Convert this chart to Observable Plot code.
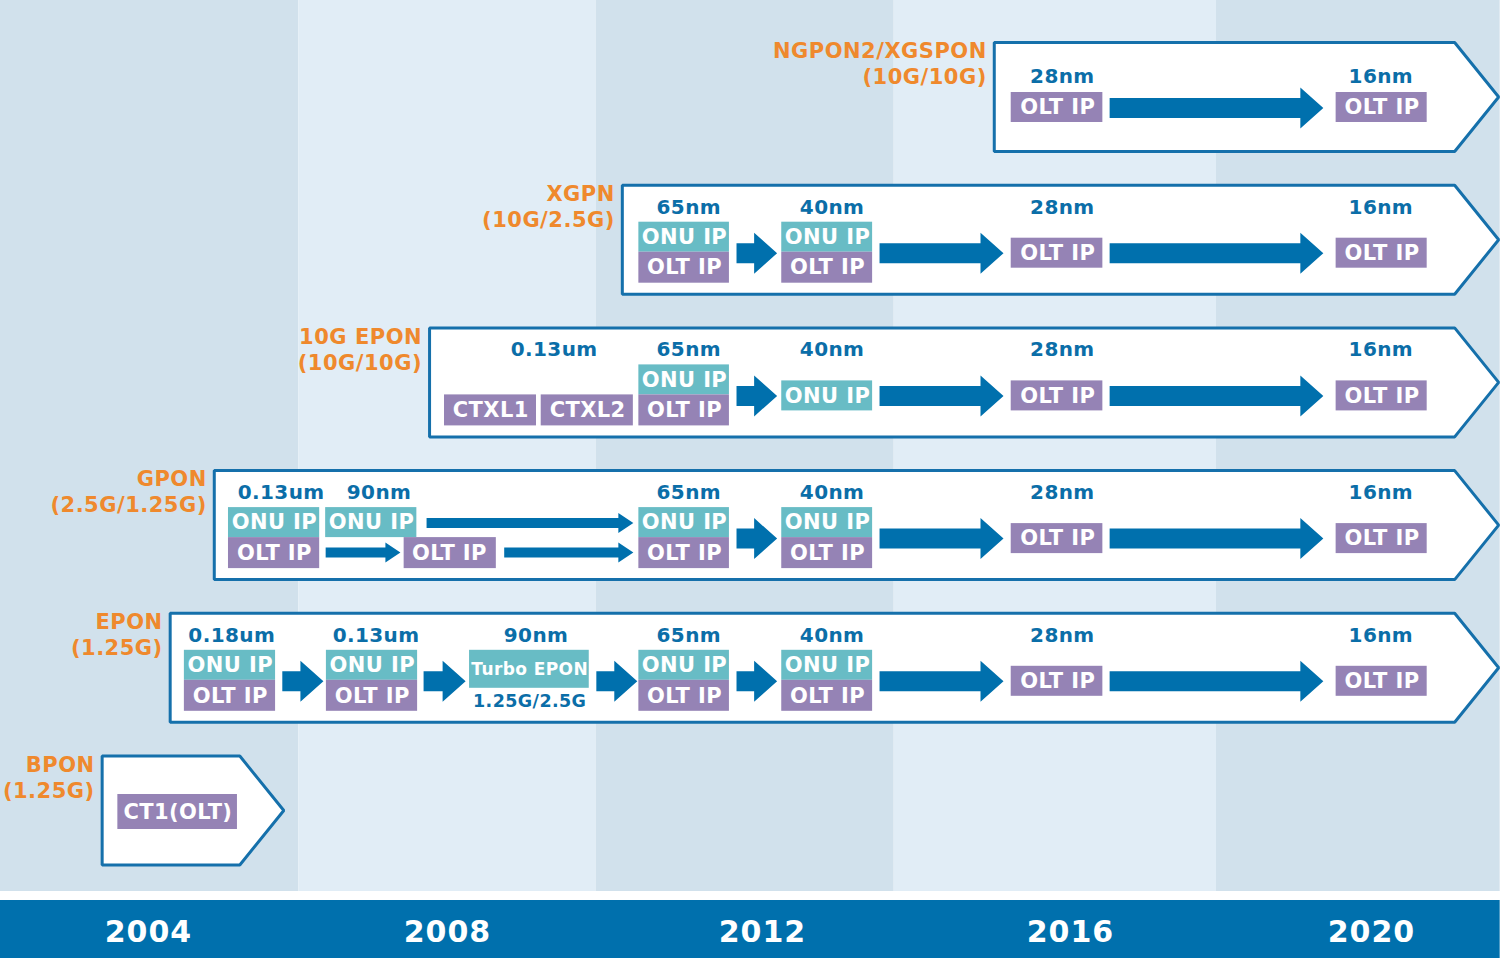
<!DOCTYPE html>
<html><head><meta charset="utf-8">
<script src="https://cdn.jsdelivr.net/npm/d3@7"></script>
<script src="https://cdn.jsdelivr.net/npm/@observablehq/plot@0.6"></script>
<style>
html,body{margin:0;padding:0;background:#fff;}
#chart svg{display:block;}
#chart g[fill="#ef892d"] text{letter-spacing:0.5px;}
#chart g[fill="#0b6ea8"] text{letter-spacing:0.4px;}
#chart g[fill="white"] text{letter-spacing:0.4px;}
#chart g[aria-label="x-axis tick label"] text{letter-spacing:1px;}
</style></head>
<body><div id="chart"></div>
<script>
// ---------------- data ----------------
const standards = ["NGPON2/XGSPON", "XGPN", "10G EPON", "GPON", "EPON", "BPON"];
const rates = ["(10G/10G)", "(10G/2.5G)", "(10G/10G)", "(2.5G/1.25G)", "(1.25G)", "(1.25G)"];
const spanStart = [2015.01, 2010.22, 2007.76, 2004.88, 2004.29, 2003.38];
const spanEnd = [2021.69, 2021.69, 2021.69, 2021.69, 2021.69, 2005.81];
const years = [2004, 2008, 2012, 2016, 2020];
const yearPos = [148, 447, 762, 1070, 1371];   // where each year label sits across the 1500px strip
const eras = [2002.02, 2006.01, 2009.89, 2013.71, 2017.94, 2021.71];

const nodes = [
  {std: "NGPON2/XGSPON", year: 2015.89, label: "28nm"},
  {std: "NGPON2/XGSPON", year: 2020.12, label: "16nm"},
  {std: "XGPN", year: 2011.06, label: "65nm"},
  {std: "XGPN", year: 2012.90, label: "40nm"},
  {std: "XGPN", year: 2015.89, label: "28nm"},
  {std: "XGPN", year: 2020.12, label: "16nm"},
  {std: "10G EPON", year: 2009.35, label: "0.13um"},
  {std: "10G EPON", year: 2011.06, label: "65nm"},
  {std: "10G EPON", year: 2012.90, label: "40nm"},
  {std: "10G EPON", year: 2015.89, label: "28nm"},
  {std: "10G EPON", year: 2020.12, label: "16nm"},
  {std: "GPON", year: 2005.77, label: "0.13um"},
  {std: "GPON", year: 2007.08, label: "90nm"},
  {std: "GPON", year: 2011.06, label: "65nm"},
  {std: "GPON", year: 2012.90, label: "40nm"},
  {std: "GPON", year: 2015.89, label: "28nm"},
  {std: "GPON", year: 2020.12, label: "16nm"},
  {std: "EPON", year: 2005.11, label: "0.18um"},
  {std: "EPON", year: 2007.04, label: "0.13um"},
  {std: "EPON", year: 2009.12, label: "90nm"},
  {std: "EPON", year: 2011.06, label: "65nm"},
  {std: "EPON", year: 2012.90, label: "40nm"},
  {std: "EPON", year: 2015.89, label: "28nm"},
  {std: "EPON", year: 2020.12, label: "16nm"}
];

// IP blocks: kind = ONU / OLT, lane = where the block sits inside its row
const blocks = [
  {std: "NGPON2/XGSPON", x1: 2015.23, x2: 2016.43, kind: "OLT", lane: "mid", text: "OLT IP"},
  {std: "NGPON2/XGSPON", x1: 2019.53, x2: 2020.74, kind: "OLT", lane: "mid", text: "OLT IP"},
  {std: "XGPN", x1: 2010.43, x2: 2011.58, kind: "ONU", lane: "top", text: "ONU IP"},
  {std: "XGPN", x1: 2010.43, x2: 2011.58, kind: "OLT", lane: "bottom", text: "OLT IP"},
  {std: "XGPN", x1: 2012.25, x2: 2013.43, kind: "ONU", lane: "top", text: "ONU IP"},
  {std: "XGPN", x1: 2012.25, x2: 2013.43, kind: "OLT", lane: "bottom", text: "OLT IP"},
  {std: "XGPN", x1: 2015.23, x2: 2016.43, kind: "OLT", lane: "mid", text: "OLT IP"},
  {std: "XGPN", x1: 2019.53, x2: 2020.74, kind: "OLT", lane: "mid", text: "OLT IP"},
  {std: "10G EPON", x1: 2007.96, x2: 2009.13, kind: "OLT", lane: "bottom", text: "CTXL1"},
  {std: "10G EPON", x1: 2009.19, x2: 2010.36, kind: "OLT", lane: "bottom", text: "CTXL2"},
  {std: "10G EPON", x1: 2010.43, x2: 2011.58, kind: "ONU", lane: "top", text: "ONU IP"},
  {std: "10G EPON", x1: 2010.43, x2: 2011.58, kind: "OLT", lane: "bottom", text: "OLT IP"},
  {std: "10G EPON", x1: 2012.25, x2: 2013.43, kind: "ONU", lane: "mid", text: "ONU IP"},
  {std: "10G EPON", x1: 2015.23, x2: 2016.43, kind: "OLT", lane: "mid", text: "OLT IP"},
  {std: "10G EPON", x1: 2019.53, x2: 2020.74, kind: "OLT", lane: "mid", text: "OLT IP"},
  {std: "GPON", x1: 2005.07, x2: 2006.29, kind: "ONU", lane: "top", text: "ONU IP"},
  {std: "GPON", x1: 2005.07, x2: 2006.29, kind: "OLT", lane: "bottom", text: "OLT IP"},
  {std: "GPON", x1: 2006.37, x2: 2007.59, kind: "ONU", lane: "top", text: "ONU IP"},
  {std: "GPON", x1: 2007.42, x2: 2008.62, kind: "OLT", lane: "bottom", text: "OLT IP"},
  {std: "GPON", x1: 2010.43, x2: 2011.58, kind: "ONU", lane: "top", text: "ONU IP"},
  {std: "GPON", x1: 2010.43, x2: 2011.58, kind: "OLT", lane: "bottom", text: "OLT IP"},
  {std: "GPON", x1: 2012.25, x2: 2013.43, kind: "ONU", lane: "top", text: "ONU IP"},
  {std: "GPON", x1: 2012.25, x2: 2013.43, kind: "OLT", lane: "bottom", text: "OLT IP"},
  {std: "GPON", x1: 2015.23, x2: 2016.43, kind: "OLT", lane: "mid", text: "OLT IP"},
  {std: "GPON", x1: 2019.53, x2: 2020.74, kind: "OLT", lane: "mid", text: "OLT IP"},
  {std: "EPON", x1: 2004.48, x2: 2005.70, kind: "ONU", lane: "top", text: "ONU IP"},
  {std: "EPON", x1: 2004.48, x2: 2005.70, kind: "OLT", lane: "bottom", text: "OLT IP"},
  {std: "EPON", x1: 2006.38, x2: 2007.60, kind: "ONU", lane: "top", text: "ONU IP"},
  {std: "EPON", x1: 2006.38, x2: 2007.60, kind: "OLT", lane: "bottom", text: "OLT IP"},
  {std: "EPON", x1: 2008.28, x2: 2009.80, kind: "ONU", lane: "tall", text: "Turbo EPON"},
  {std: "EPON", x1: 2010.43, x2: 2011.58, kind: "ONU", lane: "top", text: "ONU IP"},
  {std: "EPON", x1: 2010.43, x2: 2011.58, kind: "OLT", lane: "bottom", text: "OLT IP"},
  {std: "EPON", x1: 2012.25, x2: 2013.43, kind: "ONU", lane: "top", text: "ONU IP"},
  {std: "EPON", x1: 2012.25, x2: 2013.43, kind: "OLT", lane: "bottom", text: "OLT IP"},
  {std: "EPON", x1: 2015.23, x2: 2016.43, kind: "OLT", lane: "mid", text: "OLT IP"},
  {std: "EPON", x1: 2019.53, x2: 2020.74, kind: "OLT", lane: "mid", text: "OLT IP"},
  {std: "BPON", x1: 2003.59, x2: 2005.19, kind: "OLT", lane: "solo", text: "CT1(OLT)"}
];

const notes = [
  {std: "EPON", year: 2009.04, text: "1.25G/2.5G"}
];

const arrows = [
  {std: "NGPON2/XGSPON", x1: 2016.52, x2: 2019.36, lane: "mid"},
  {std: "XGPN", x1: 2011.67, x2: 2012.19, lane: "mid"},
  {std: "XGPN", x1: 2013.52, x2: 2015.13, lane: "mid"},
  {std: "XGPN", x1: 2016.52, x2: 2019.36, lane: "mid"},
  {std: "10G EPON", x1: 2011.67, x2: 2012.19, lane: "mid"},
  {std: "10G EPON", x1: 2013.52, x2: 2015.13, lane: "mid"},
  {std: "10G EPON", x1: 2016.52, x2: 2019.36, lane: "mid"},
  {std: "GPON", x1: 2007.72, x2: 2010.36, lane: "top"},
  {std: "GPON", x1: 2006.37, x2: 2007.37, lane: "bottom"},
  {std: "GPON", x1: 2008.72, x2: 2010.36, lane: "bottom"},
  {std: "GPON", x1: 2011.67, x2: 2012.19, lane: "mid"},
  {std: "GPON", x1: 2013.52, x2: 2015.13, lane: "mid"},
  {std: "GPON", x1: 2016.52, x2: 2019.36, lane: "mid"},
  {std: "EPON", x1: 2005.79, x2: 2006.34, lane: "mid"},
  {std: "EPON", x1: 2007.68, x2: 2008.23, lane: "mid"},
  {std: "EPON", x1: 2009.89, x2: 2010.41, lane: "mid"},
  {std: "EPON", x1: 2011.67, x2: 2012.19, lane: "mid"},
  {std: "EPON", x1: 2013.52, x2: 2015.13, lane: "mid"},
  {std: "EPON", x1: 2016.52, x2: 2019.36, lane: "mid"}
];

// ---------------- styles & layout ----------------
const FONT = "DejaVu Sans, Verdana, sans-serif";
const BAR = "#0070ad", ARROW = "#0070ad", OUTLINE = "#1570ab", NODE_TXT = "#0b6ea8";
const ORANGE = "#ef892d", TEAL = "#68bcc5", PURPLE = "#9583b5";
const BAND_DARK = "#d1e1ec", BAND_LIGHT = "#e1edf6";

const Y0 = 96.5, YK = 142.7;      // y scale: px of first row centre, px per row
const W = 1500, H = 958, FRAME_BOTTOM = 891;
const xs = d3.scaleLinear(years, yearPos);   // same mapping as the Plot x scale, for pixel offsets
const xShift = (v, px) => xs.invert(xs(v) + px);
const rowAt = px => (px - Y0) / YK;          // px -> row units
const rowOf = new Map(standards.map((s, i) => [s, i]));
const compact = new Set(standards.filter(s =>
  !blocks.some(b => b.std === s && ["top", "bottom", "tall"].includes(b.lane))));

const laneBox = {top: [-17.5, 12.5], bottom: [12.5, 43.5], mid: [-1.5, 28.5], tall: [-17.5, 20.5], solo: [-16, 19]};
const laneBoxCompact = {mid: [-4.5, 25.5], solo: [-16, 19]};
const laneArrow = {top: -2, bottom: 27.5, mid: 13.5};
const laneArrowCompact = {mid: 11};
const boxOff = b => (compact.has(b.std) ? laneBoxCompact : laneBox)[b.lane];
const byStd = s => rowOf.get(s);

const bandData = eras.slice(0, -1).map((e, i) => ({x1: e, x2: eras[i + 1], fill: i % 2 ? BAND_LIGHT : BAND_DARK}));

// row outlines (pentagon arrows)
const outline = standards.flatMap((s, i) => {
  const h = 54.5 / YK, a = spanStart[i], b = spanEnd[i], sb = xShift(b, -44);
  return [[a, i - h], [sb, i - h], [b, i], [sb, i + h], [a, i + h]].map(([x, y]) => ({s, x, y}));
});

// block arrows
const arrowPts = arrows.flatMap((a, k) => {
  const r = byStd(a.std);
  const cy = (compact.has(a.std) ? laneArrowCompact : laneArrow)[a.lane];
  const thin = a.lane !== "mid";
  const sh = thin ? 5 : 10, hh = thin ? 10 : 20.5, hl = thin ? 15 : 23;
  const xh = xShift(a.x2, -hl);
  return [[a.x1, cy - sh], [xh, cy - sh], [xh, cy - hh], [a.x2, cy], [xh, cy + hh], [xh, cy + sh], [a.x1, cy + sh]]
    .map(([x, py]) => ({k, x, y: r + py / YK}));
});

const bigText = blocks.filter(b => b.lane !== "tall");
const smallText = blocks.filter(b => b.lane === "tall");
const boxMid = b => byStd(b.std) + (boxOff(b)[0] + boxOff(b)[1]) / 2 / YK;

const chart = Plot.plot({
  width: W, height: H,
  margin: 0, marginBottom: H - FRAME_BOTTOM,
  x: {type: "linear", domain: years, range: yearPos, label: null},
  y: {domain: [0, 5], range: [Y0, Y0 + 5 * YK], axis: null, label: null},
  color: {type: "identity"},
  style: {fontFamily: FONT, background: "white", overflow: "visible"},
  marks: [
    Plot.rect(bandData, {x1: "x1", x2: "x2", fill: "fill"}),
    Plot.rect([0], {x1: eras[0], x2: eras[eras.length - 1], y1: rowAt(900), y2: rowAt(H), fill: BAR}),
    Plot.line(outline, {x: "x", y: "y", z: "s", curve: "linear-closed", fill: "white", stroke: OUTLINE, strokeWidth: 3, strokeLinejoin: "miter"}),
    Plot.line(arrowPts, {x: "x", y: "y", z: "k", curve: "linear-closed", fill: ARROW, stroke: "none"}),
    Plot.rect(blocks, {
      x1: "x1", x2: "x2",
      y1: b => byStd(b.std) + boxOff(b)[0] / YK,
      y2: b => byStd(b.std) + boxOff(b)[1] / YK,
      fill: b => b.kind === "ONU" ? TEAL : PURPLE
    }),
    Plot.text(bigText, {x: b => (b.x1 + b.x2) / 2, y: boxMid, text: "text", dx: 0.3, fill: "white", fontSize: 21, fontWeight: "bold", fontFamily: FONT}),
    Plot.text(smallText, {x: b => (b.x1 + b.x2) / 2, y: boxMid, text: "text", dx: 0.3, fill: "white", fontSize: 17, fontWeight: "bold", fontFamily: FONT}),
    Plot.text(notes, {x: "year", y: d => byStd(d.std) + 33.5 / YK, text: "text", dx: 0.3, fill: NODE_TXT, fontSize: 17.5, fontWeight: "bold", fontFamily: FONT}),
    Plot.text(nodes, {x: "year", y: d => byStd(d.std) + (compact.has(d.std) ? -20.5 : -32.5) / YK, text: "label", dx: 0.3, fill: NODE_TXT, fontSize: 20, fontWeight: "bold", fontFamily: FONT}),
    Plot.text(standards, {
      x: (d, i) => spanStart[i], y: (d, i) => i - 34 / YK,
      text: (d, i) => d + "\n" + rates[i],
      textAnchor: "end", dx: -7.5, lineHeight: 1.24,
      fill: ORANGE, fontSize: 21, fontWeight: "bold", fontFamily: FONT
    }),
    Plot.axisX(years, {tickSize: 0, tickPadding: 29, tickFormat: d => String(d), fontSize: 30, fontWeight: "bold", fill: "white", fontFamily: FONT, label: null})
  ]
});
document.getElementById("chart").appendChild(chart);
</script>
</body></html>
